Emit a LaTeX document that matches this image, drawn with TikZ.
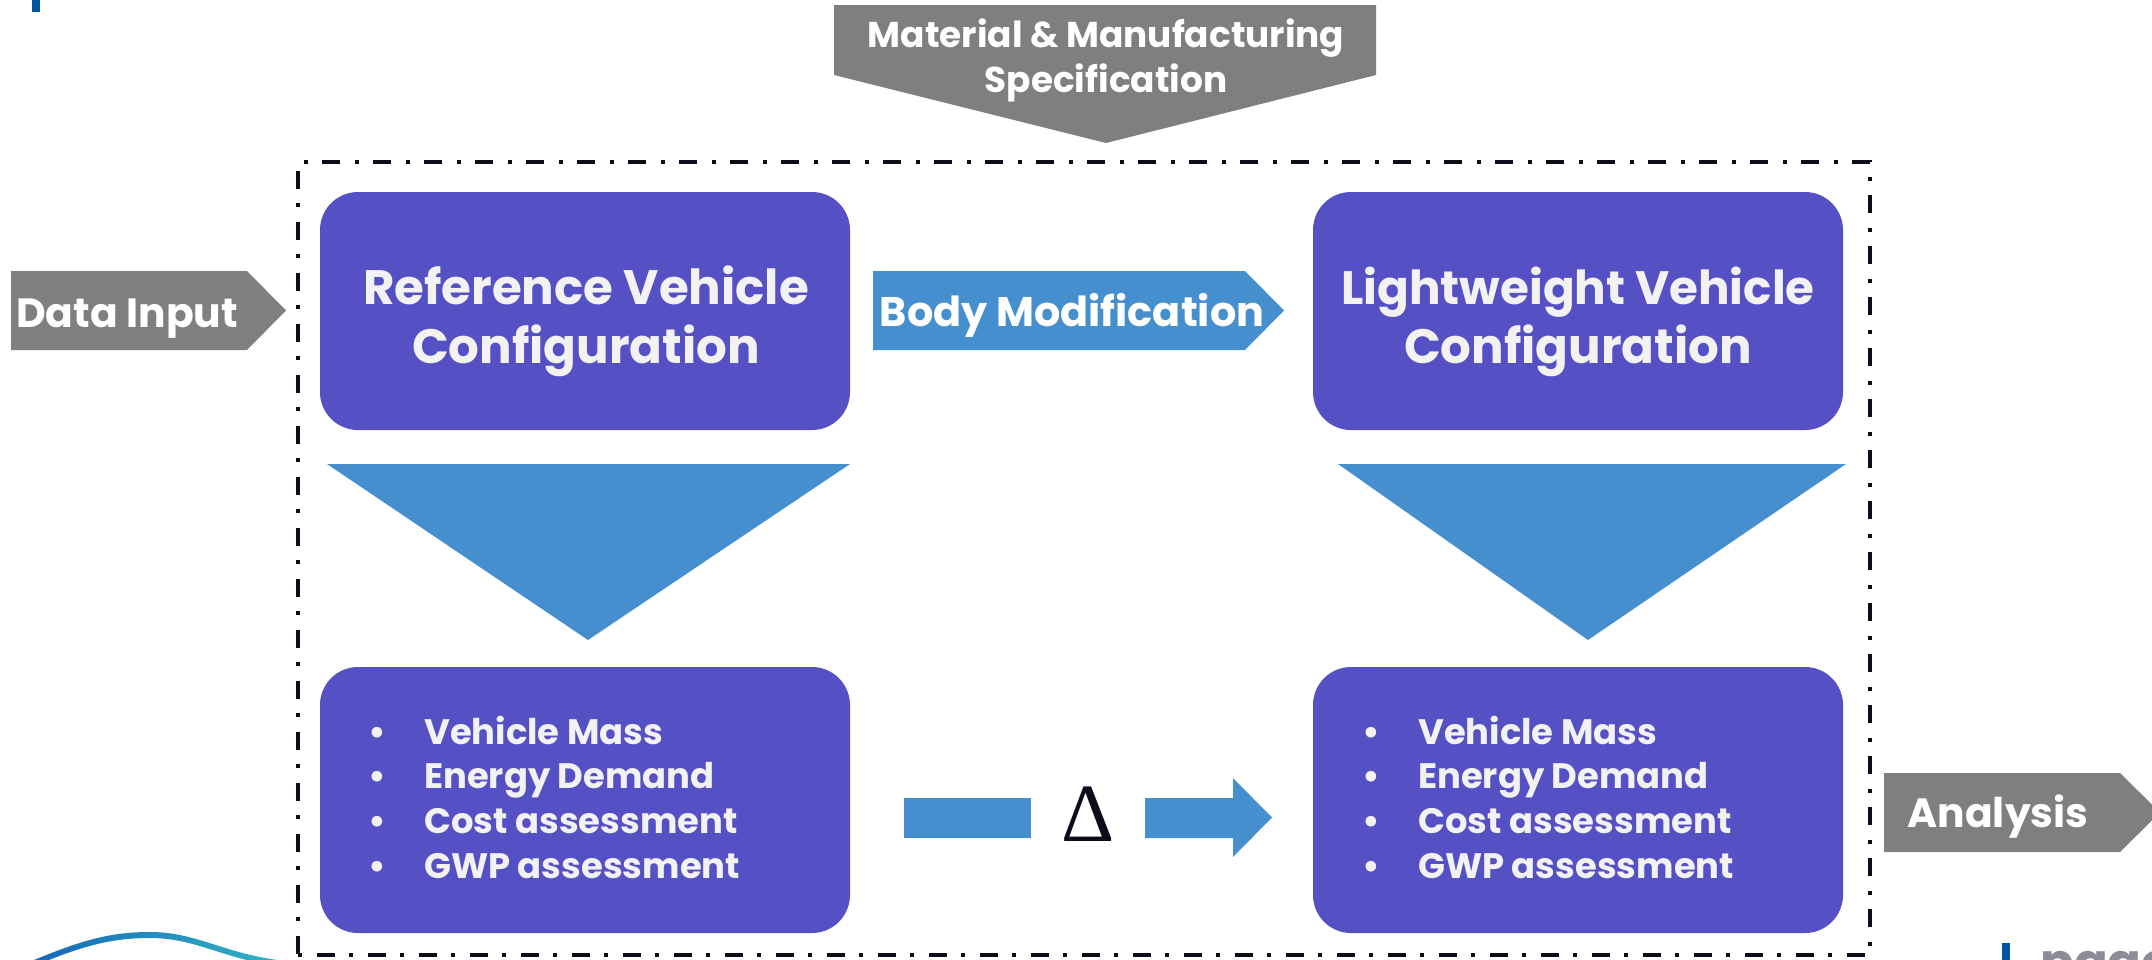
\documentclass[tikz,border=0pt]{standalone}
\usepackage{fontspec}
\setmainfont{Poppins}
\newfontfamily\deltafont{Liberation Serif}
\definecolor{boxpurple}{HTML}{5551C4}
\definecolor{arrowblue}{HTML}{468FCF}
\definecolor{arrowgray}{HTML}{7F7F7F}
\definecolor{boxtext}{HTML}{F2F2F2}
\definecolor{frameink}{HTML}{0D0D1A}
\definecolor{markblue}{HTML}{0057A0}
\definecolor{waveA}{HTML}{1565B8}
\definecolor{waveB}{HTML}{35B8C4}
\definecolor{pagegray}{HTML}{8C8C96}
\begin{document}
\begin{tikzpicture}[x=1bp,y=-1bp,
  box/.style={fill=boxpurple, rounded corners=38bp, minimum width=530bp, inner sep=0pt},
  frame/.style={draw=frameink, line width=4.5bp, dash pattern=on 4bp off 15bp on 18bp off 14bp, inner sep=0pt},
  titletext/.style={inner sep=0pt, anchor=base, text=boxtext, font=\fontsize{48.5}{59}\selectfont\bfseries},
  listtext/.style={inner sep=0pt, anchor=base west, text=boxtext, font=\fontsize{35.5}{45}\selectfont\bfseries},
  arrowtext/.style={inner sep=0pt, anchor=base, text=white, font=\bfseries},
  grayarrow/.style={fill=arrowgray},
  bluearrow/.style={fill=arrowblue}]
\useasboundingbox (0,0) rectangle (2152,960);
\clip (0,0) rectangle (2152,960);

% decorative marks
\fill[markblue] (32,0) rectangle (40,12);
\fill[markblue] (2002,943) rectangle (2010,960);
\node[inner sep=0pt, anchor=north west, text=pagegray, font=\fontsize{50}{60}\selectfont\bfseries] (page) at (2040,951) {page};
\shade[left color=waveA, right color=waveB] (20,966) .. controls (80,940) and (110,932) .. (150,932) .. controls (200,932) and (225,956) .. (295,962) -- (295,968) .. controls (225,962) and (200,938) .. (150,938) .. controls (110,938) and (80,946) .. (20,972) -- cycle;

% frame
\node[frame, minimum width=1572bp, minimum height=793bp] (frame) at (1084,558.5) {};

% top gray arrow
\fill[grayarrow] (834,5) -- (1376,5) -- (1376,75) -- (1106,143) -- (834,75) -- cycle;
\node[arrowtext, font=\fontsize{36}{45}\selectfont\bfseries] (mat1) at (1106,47) {Material \& Manufacturing};
\node[arrowtext, font=\fontsize{36}{45}\selectfont\bfseries] (mat2) at (1106,92) {Specification};

% data input arrow
\fill[grayarrow] (11,271) -- (247,271) -- (286,310.5) -- (247,350) -- (11,350) -- cycle;
\node[arrowtext, font=\fontsize{41}{50}\selectfont\bfseries] (datain) at (127,327) {Data Input};

% analysis arrow
\fill[grayarrow] (1884,773) -- (2120,773) -- (2160,812.5) -- (2120,852) -- (1884,852) -- cycle;
\node[arrowtext, font=\fontsize{41}{50}\selectfont\bfseries] (analysis) at (1998,827) {Analysis};

% boxes
\node[box, minimum height=238bp] (ref) at (585,311) {};
\node[box, minimum height=238bp] (lw) at (1578,311) {};
\node[box, minimum height=266bp] (refres) at (585,800) {};
\node[box, minimum height=266bp] (lwres) at (1578,800) {};

\node[titletext] (reft1) at (586,304) {Reference Vehicle};
\node[titletext] (reft2) at (586,363) {Configuration};
\node[titletext, font=\fontsize{47}{59}\selectfont\bfseries] (lwt1) at (1578,304) {Lightweight Vehicle};
\node[titletext] (lwt2) at (1578,363) {Configuration};

% body modification arrow
\fill[bluearrow] (873,271) -- (1245,271) -- (1284,310.5) -- (1245,350) -- (873,350) -- cycle;
\node[arrowtext, font=\fontsize{41.5}{50}\selectfont\bfseries] (bodymod) at (1072,326) {Body Modification};

% down triangles
\fill[bluearrow] (327,464) -- (850,464) -- (588,640) -- cycle;
\fill[bluearrow] (1338,464) -- (1846,464) -- (1588,640) -- cycle;

% bullet lists
\node[listtext] (reflist) at (377,744) {\begin{tabular}[t]{@{}l@{}}
\makebox[0pt]{•}\hspace{47bp}Vehicle Mass\\
\makebox[0pt]{•}\hspace{47bp}Energy Demand\\
\makebox[0pt]{•}\hspace{47bp}Cost assessment\\
\makebox[0pt]{•}\hspace{47bp}GWP assessment
\end{tabular}};
\node[listtext] (lwlist) at (1371,744) {\begin{tabular}[t]{@{}l@{}}
\makebox[0pt]{•}\hspace{47bp}Vehicle Mass\\
\makebox[0pt]{•}\hspace{47bp}Energy Demand\\
\makebox[0pt]{•}\hspace{47bp}Cost assessment\\
\makebox[0pt]{•}\hspace{47bp}GWP assessment
\end{tabular}};

% delta comparison
\fill[bluearrow] (904,798) rectangle (1031,838);
\node[inner sep=0pt, anchor=base, text=frameink, font=\fontsize{83}{90}\selectfont\deltafont] (delta) at (1088,841) {Δ};
\fill[bluearrow] (1145,798) -- (1233,798) -- (1233,778) -- (1272,817.5) -- (1233,857) -- (1233,838) -- (1145,838) -- cycle;
\end{tikzpicture}
\end{document}
